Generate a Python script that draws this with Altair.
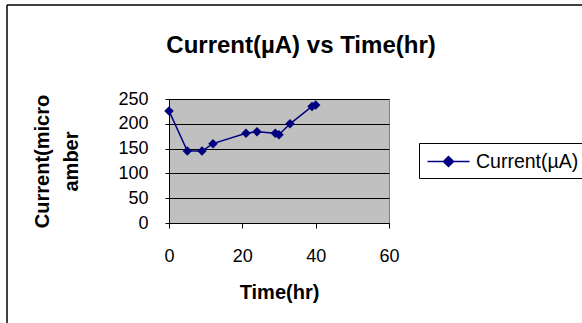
import altair as alt
import pandas as pd

# ---- data ----
time_hr = [0, 5, 9, 12, 21, 24, 29, 30, 33, 39, 40]
current_ua = [226, 145, 145, 160, 181, 184, 181, 178, 200, 235, 238]
series_label = "Current(µA)"
x_ticks = [0, 20, 40, 60]
y_ticks = [0, 50, 100, 150, 200, 250]

df = pd.DataFrame({
    "Time": time_hr,
    "Current": current_ua,
    "Series": [series_label] * len(time_hr),
})

FONT = "Liberation Sans"
NAVY = "#000080"

x_enc = alt.X(
    "Time:Q",
    scale=alt.Scale(domain=[0, 60], nice=False, zero=False),
    axis=alt.Axis(
        values=x_ticks, grid=False, domainColor="black", tickColor="black",
        tickSize=5, labelFontSize=18, labelPadding=19, labelFont=FONT,
        labelColor="black", labelFlush=False, labelOverlap=False,
        title="Time(hr)", titleFont=FONT, titleFontSize=20, titleFontWeight="bold",
        titleColor="black", titleY=69, titleBaseline="middle",
    ),
)
y_enc = alt.Y(
    "Current:Q",
    scale=alt.Scale(domain=[0, 250], nice=False),
    axis=alt.Axis(
        values=y_ticks, grid=True, gridColor="black", gridWidth=1,
        domainColor="black", tickColor="black", tickSize=4,
        labelFontSize=18, labelPadding=17, labelFont=FONT, labelColor="black",
        labelOverlap=False,
        title=["Current(micro", "amber"], titleFont=FONT, titleFontSize=20,
        titleFontWeight="bold", titleColor="black", titleX=-127, titleY=62,
        titleAngle=-90, titleAlign="center", titleBaseline="middle",
        titleLineHeight=29,
    ),
)

color_enc = alt.Color(
    "Series:N",
    scale=alt.Scale(range=[NAVY]),
    legend=alt.Legend(
        title=None, orient="none", legendX=250, legendY=44,
        strokeColor="black", padding=7,
        symbolType="M-2,0L2,0M-0.48,0L0,-0.48L0.48,0L0,0.48Z",
        symbolSize=441, symbolStrokeWidth=1.5, symbolOffset=11,
        symbolStrokeColor=NAVY, symbolFillColor=NAVY,
        labelFont=FONT, labelFontSize=19.5, labelColor="black", labelOffset=16,
    ),
)

base = alt.Chart(df)

line = base.mark_line(color=NAVY, strokeWidth=1.5).encode(x=x_enc, y=y_enc)
points = base.mark_point(shape="diamond", filled=True, size=90, opacity=1).encode(
    x=x_enc, y=y_enc, color=color_enc
)

frame_df = pd.DataFrame({"k": [0]})
top_border = alt.Chart(frame_df).mark_rule(color="black", strokeWidth=1.5).encode(
    x=alt.value(-162), x2=alt.value(420), y=alt.value(-94)
)
left_border = alt.Chart(frame_df).mark_rule(color="black", strokeWidth=1.5).encode(
    x=alt.value(-162), y=alt.value(-94), y2=alt.value(230)
)

chart = alt.layer(line, points, top_border, left_border).properties(
    width=220,
    height=124,
    autosize=alt.AutoSizeParams(type="none"),
    padding={"left": 169, "top": 99, "right": 193, "bottom": 100},
    title=alt.TitleParams(
        "Current(µA) vs Time(hr)", font=FONT, fontSize=24, fontWeight="bold",
        color="black", anchor="middle", frame="group", dx=22, offset=0, dy=54,
    ),
    background="white",
).configure_view(
    fill="#C0C0C0", stroke="#808080", strokeWidth=1
)

chart.save("out.html", embed_options={"renderer": "svg", "actions": False})
